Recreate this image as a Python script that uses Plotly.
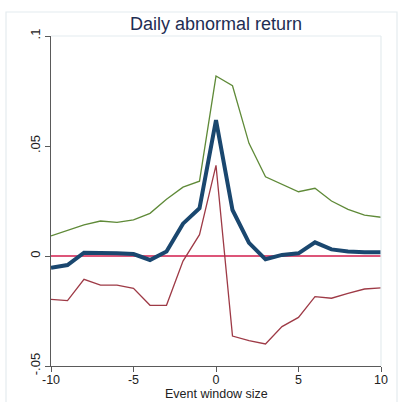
import plotly.graph_objects as go

days = list(range(-10, 11))
mean_ar = [-0.0053, -0.0041, 0.0015, 0.0015, 0.0012, 0.0009, -0.0018, 0.0020, 0.0147, 0.0217,
           0.0618, 0.0209, 0.0060, -0.0015, 0.0005, 0.0012, 0.0062, 0.0030, 0.0020, 0.0017, 0.0017]
upper_ci = [0.0091, 0.0115, 0.0141, 0.0159, 0.0153, 0.0164, 0.0194, 0.0258, 0.0313, 0.0340,
            0.0818, 0.0774, 0.0512, 0.0360, 0.0327, 0.0292, 0.0308, 0.0250, 0.0212, 0.0186, 0.0176]
lower_ci = [-0.0197, -0.0203, -0.0106, -0.0132, -0.0132, -0.0147, -0.0224, -0.0224, -0.0023, 0.0097,
            0.0412, -0.0364, -0.0385, -0.0400, -0.0321, -0.0279, -0.0185, -0.0192, -0.0170, -0.0150, -0.0145]
zero_line = [0.0] * len(days)

y_tickvals = [-0.05, 0, 0.05, 0.1]
y_ticktext = ["-.05", "0", ".05", ".1"]
x_tickvals = [-10, -5, 0, 5, 10]
x_ticktext = ["-10", "-5", "0", "5", "10"]

FONT = "Liberation Sans, Arial, sans-serif"
AXIS = "#5a5a5a"

fig = go.Figure()
fig.add_trace(go.Scatter(x=days, y=zero_line, mode="lines",
                         line=dict(color="#d21c4c", width=1.6), hoverinfo="skip"))
fig.add_trace(go.Scatter(x=days, y=upper_ci, mode="lines",
                         line=dict(color="#5f8a38", width=1.3)))
fig.add_trace(go.Scatter(x=days, y=lower_ci, mode="lines",
                         line=dict(color="#9e3a46", width=1.3)))
fig.add_trace(go.Scatter(x=days, y=mean_ar, mode="lines",
                         line=dict(color="#1a476f", width=4)))

fig.update_layout(
    width=398, height=402,
    margin=dict(l=51, r=17, t=36, b=36),
    paper_bgcolor="white", plot_bgcolor="white",
    showlegend=False,
    font=dict(family=FONT, size=13, color="#222222"),
    title=dict(text="Daily abnormal return", x=216 / 398, xanchor="center",
               y=1 - 24 / 402, yanchor="middle",
               font=dict(family=FONT, size=18, color="#1e2d53")),
    xaxis=dict(range=[-10, 10], tickvals=x_tickvals, ticktext=x_ticktext, showgrid=False,
               zeroline=False, automargin=False, ticklabelstandoff=-3,
               showline=True, linecolor=AXIS, linewidth=1, ticks="outside", ticklen=5,
               tickcolor=AXIS, tickfont=dict(size=12.5, color="#222222")),
    yaxis=dict(range=[-0.05, 0.1], tickvals=y_tickvals, ticktext=y_ticktext, tickangle=-90,
               showgrid=False, zeroline=False, showline=True, linecolor=AXIS, linewidth=1,
               automargin=False,
               ticks="outside", ticklen=5, tickcolor=AXIS,
               tickfont=dict(size=13, color="#222222")),
    annotations=[
        dict(text="Event window size", xref="paper", yref="paper", x=0.5, y=-36 / 330,
             xanchor="center", yanchor="bottom", showarrow=False, borderpad=0,
             font=dict(family=FONT, size=12.5, color="#222222")),
    ],
    shapes=[
        dict(type="line", xref="paper", yref="paper", x0=0, x1=1, y0=1, y1=1,
             line=dict(color="#e4ecef", width=1.2)),
        dict(type="line", xref="paper", yref="paper", x0=1, x1=1, y0=0, y1=1,
             line=dict(color="#e4ecef", width=1.2)),
        dict(type="rect", xref="paper", yref="paper",
             x0=-45 / 330, x1=346 / 330, y0=-40 / 330, y1=354 / 330,
             line=dict(color="#e4ecef", width=1.2), layer="below"),
    ],
)

fig.write_html("out.html")
